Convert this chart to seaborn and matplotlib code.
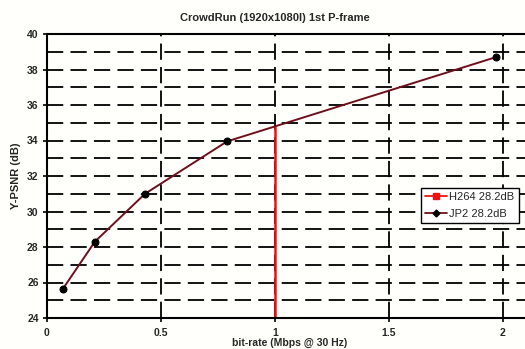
import numpy as np
import pandas as pd
import matplotlib
matplotlib.use("Agg")
import matplotlib.pyplot as plt
from matplotlib.lines import Line2D
import seaborn as sns

# JPEG2000 rate/PSNR points
jp2_rate = [0.07, 0.21, 0.43, 0.79, 1.97]
jp2_psnr = [25.65, 28.3, 31.0, 33.95, 38.7]

# H.264 operating point (single rate, drawn as a vertical marker line)
h264_rate = [1.0, 1.0]
h264_psnr = [20.0, 34.75]

x_ticks = [0, 0.5, 1, 1.5, 2]
x_tick_labels = ["0", "0.5", "1", "1.5", "2"]
y_ticks = [24, 26, 28, 30, 32, 34, 36, 38, 40]

sns.set_theme(style="white")
plt.rcParams["font.family"] = ["Liberation Sans", "DejaVu Sans"]

fig = plt.figure(figsize=(5.25, 3.49), dpi=100)
fig.patch.set_facecolor("#fffffb")
ax = fig.add_axes([47 / 525, 31 / 349, (532 - 47) / 525, (318 - 34) / 349])
ax.set_facecolor("#fffffb")

df_jp2 = pd.DataFrame({"rate": jp2_rate, "psnr": jp2_psnr})
df_h264 = pd.DataFrame({"rate": h264_rate, "psnr": h264_psnr})

sns.lineplot(data=df_h264, x="rate", y="psnr", ax=ax, color="#ee1111",
             linewidth=1.8, sort=False, estimator=None, legend=False)
sns.lineplot(data=df_jp2, x="rate", y="psnr", ax=ax, color="#6e0f1a",
             linewidth=1.4, sort=False, estimator=None, legend=False,
             marker="o", markersize=5, markerfacecolor="black",
             markeredgecolor="black")

ax.set_xlim(0, (532 - 47) / 228)
ax.set_ylim(24, 40)

# dashed grid
for yv in range(25, 40):
    ax.axhline(yv, color="black", linewidth=1.3, dashes=(9, 4), zorder=0)
for xv in [0.5, 1.0, 1.5, 2.0]:
    ax.axvline(xv, color="black", linewidth=1.3, dashes=(9, 4), zorder=0)

ax.set_xticks(x_ticks)
ax.set_xticklabels(x_tick_labels)
ax.set_yticks(y_ticks)
ax.tick_params(axis="both", direction="out", length=3, width=1.2, color="black",
               labelsize=7.5, pad=3, bottom=True, left=True)
for lbl in ax.get_xticklabels() + ax.get_yticklabels():
    lbl.set_fontweight("bold")
ax.tick_params(axis="x", pad=4)

for side in ["left", "bottom", "top"]:
    ax.spines[side].set_color("black")
    ax.spines[side].set_linewidth(1.5)
ax.spines["right"].set_visible(False)

ax.set_xlabel("bit-rate (Mbps @ 30 Hz)", fontsize=7.5, fontweight="bold", labelpad=0)
ax.set_ylabel("Y-PSNR (dB)", fontsize=8, fontweight="bold", labelpad=4)
fig.text(275 / 525, 1 - 18 / 349, "CrowdRun (1920x1080I) 1st P-frame",
         ha="center", va="center", fontsize=8, fontweight="bold")

handles = [
    Line2D([], [], color="#ee1111", linewidth=1.3, marker="s", markersize=4.5,
           markerfacecolor="#ee1111", markeredgecolor="#ee1111"),
    Line2D([], [], color="#6e0f1a", linewidth=1.3, marker="D", markersize=3.5,
           markerfacecolor="black", markeredgecolor="black"),
]
labels = ["H264 28.2dB", "JP2 28.2dB"]
leg = ax.legend(handles, labels, loc="upper left",
                bbox_to_anchor=((415 - 47) / 485, (318 - 182) / 284),
                fontsize=8, frameon=True, fancybox=False, edgecolor="black",
                framealpha=1, handlelength=2.0, borderpad=0.4, labelspacing=0.6,
                handletextpad=0.2)
leg.get_frame().set_linewidth(1.0)
leg.get_frame().set_facecolor("white")

fig.savefig("out.png", dpi=100, facecolor=fig.get_facecolor())
